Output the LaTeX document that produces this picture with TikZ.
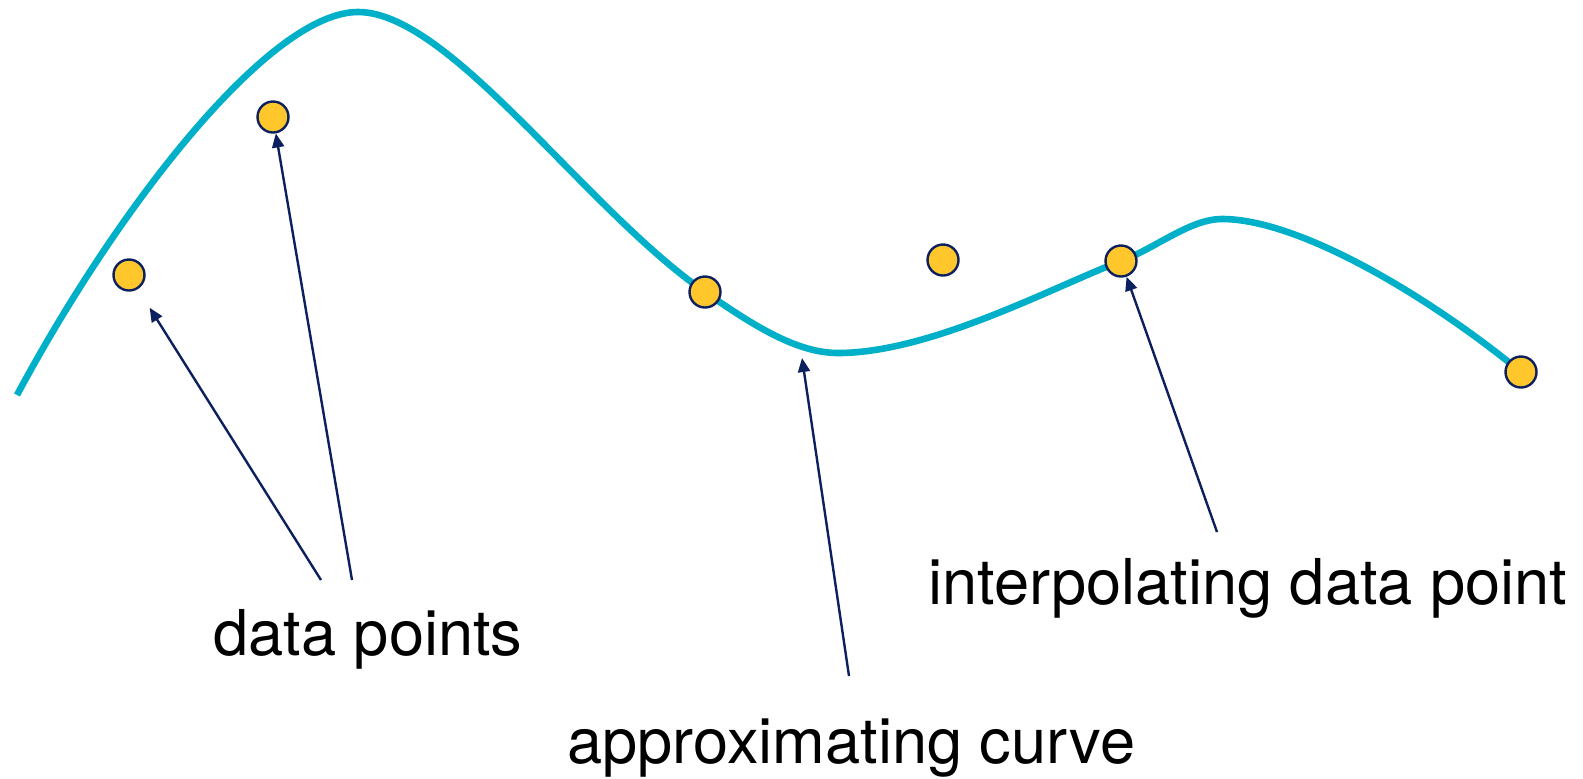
\documentclass[tikz,border=0pt]{standalone}
\usepackage{fontspec}
\setmainfont{TeX Gyre Heros}
\usetikzlibrary{arrows.meta}
\definecolor{navy}{HTML}{0C1F5E}
\definecolor{lagoon}{HTML}{00AFC8}
\definecolor{marigold}{HTML}{FFC72C}

\begin{document}
\begin{tikzpicture}[x=0.5pt, y=-0.5pt,
  datapt/.style={circle, draw=navy, fill=marigold, line width=1.2pt, minimum size=15.5pt, inner sep=0pt},
  pointer/.style={navy, line width=1.2pt, -{Triangle[length=7pt, width=6pt]}},
  callout/.style={font=\fontsize{31.6pt}{38pt}\selectfont, inner sep=0pt, anchor=base west}]
  \useasboundingbox (0,0) rectangle (1583,778);
  % approximating curve
  \draw[lagoon, line width=3.3pt] (17,395)
    .. controls (119,205) and (270,12) .. (358,12)
    .. controls (450,12) and (585,209) .. (705,292)
    .. controls (750,323) and (795,353) .. (838,353)
    .. controls (930,353) and (1051,288) .. (1121,261)
    .. controls (1156,248) and (1190,219) .. (1222,219)
    .. controls (1300,219) and (1431,298) .. (1521,372);
  \foreach \name/\x/\y in {d1/129/275, d2/273/117, d3/705/292, d4/943/260, d5/1121/261, d6/1521/372}
    \node[datapt] (\name) at (\x,\y) {};
  % labels
  \node[callout] (pts) at (213,655) {data points};
  \node[callout] (approx) at (567,763) {approximating curve};
  \node[callout] (interp) at (928,604) {interpolating data point};
  \coordinate (tailA) at (321,580);
  \coordinate (tailB) at (352,580);
  \coordinate (tailC) at (849,676);
  \coordinate (tailD) at (1217,532);
  \coordinate (onCurve) at (802,358);
  \draw[pointer, shorten >=11pt] (tailA) -- (d1);
  \draw[pointer] (tailB) -- (d2);
  \draw[pointer] (tailC) -- (onCurve);
  \draw[pointer] (tailD) -- (d5);
\end{tikzpicture}
\end{document}
